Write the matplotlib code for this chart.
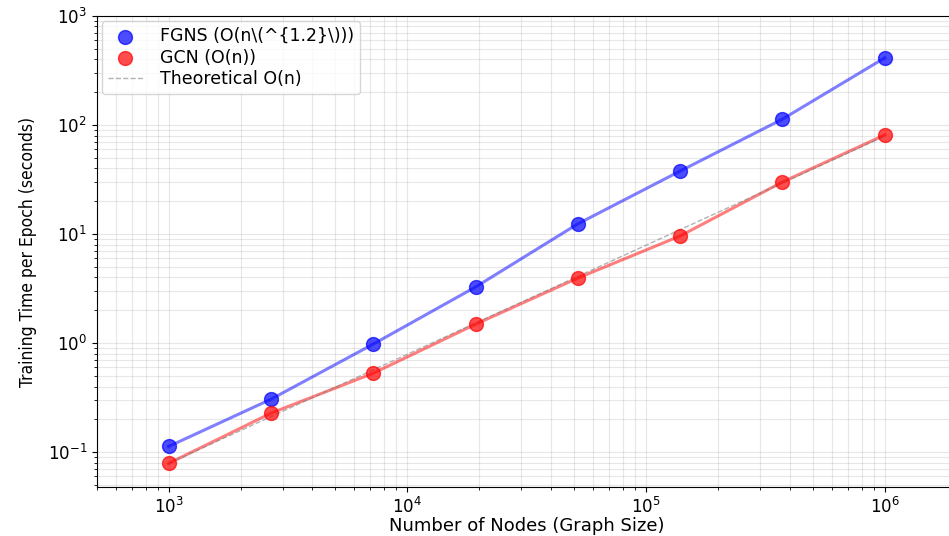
import numpy as np
import matplotlib
matplotlib.use("Agg")
import matplotlib.pyplot as plt

# number of nodes (graph size)
nodes = [1000, 2683, 7197, 19307, 51795, 138950, 372759, 1000000]

# training time per epoch, seconds
fgns_time = [0.113, 0.306, 0.98, 3.27, 12.4, 37.8, 113, 412]
gcn_time = [0.079, 0.228, 0.53, 1.49, 3.95, 9.6, 30, 81]
theory_time = [0.079, 0.212, 0.569, 1.53, 4.09, 10.98, 29.4, 79]

fig = plt.figure(figsize=(9.49, 5.36), dpi=100)
ax = fig.add_axes([0.102, 0.0914, 0.906, 0.879])

ax.plot(nodes, fgns_time, color='blue', lw=2.2, alpha=0.5)
ax.plot(nodes, gcn_time, color='red', lw=2.2, alpha=0.5)
ax.scatter(nodes, fgns_time, s=100, color='blue', alpha=0.7, label='FGNS (O(n\\(^{1.2}\\)))', zorder=3)
ax.scatter(nodes, gcn_time, s=100, color='red', alpha=0.7, label='GCN (O(n))', zorder=3)
ax.plot(nodes, theory_time, '--', color='gray', lw=1, alpha=0.6, label='Theoretical O(n)')

ax.set_xscale('log')
ax.set_yscale('log')
ax.set_xlim(500, 2.0e6)
ax.set_ylim(0.048, 1000)

ax.grid(True, which='both', color='#b0b0b0', lw=0.8, alpha=0.3)
ax.tick_params(labelsize=12)

ax.set_xlabel('Number of Nodes (Graph Size)', fontsize=13, labelpad=0)
ax.set_ylabel('Training Time per Epoch (seconds)', fontsize=12.5,
              family='DejaVu Sans', fontstretch='condensed', labelpad=8)

ax.legend(loc='upper left', fontsize=12.5, handletextpad=1.0, borderpad=0.35,
          labelspacing=0.2, borderaxespad=0.3)

fig.savefig('out.png', dpi=100)
